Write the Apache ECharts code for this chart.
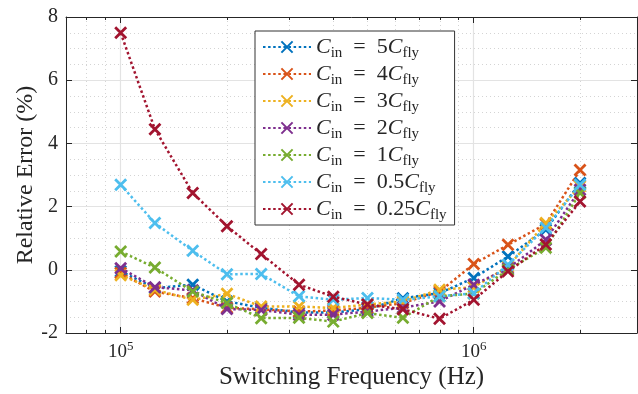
<!DOCTYPE html>
<html>
<head>
<meta charset="utf-8">
<script src="https://cdn.jsdelivr.net/npm/echarts@6/dist/echarts.min.js"></script>
<style>
	html, body { margin: 0; padding: 0; background: #fff; }
	#chart { width: 638px; height: 394px; }
</style>
</head>
<body>
<div id="chart"></div>
<script>
// switching frequencies (Hz)
const freqs = [1e5, 1.25e5, 1.6e5, 2e5, 2.5e5, 3.2e5, 4e5, 5e5, 6.3e5, 8e5, 1e6, 1.25e6, 1.6e6, 2e6];
// minor log grid positions
const minorFreqs = [8e4, 9e4, 2e5, 3e5, 4e5, 5e5, 6e5, 7e5, 8e5, 9e5, 2e6];

// C_in / C_fly ratio for each curve
const ratios = ["5", "4", "3", "2", "1", "0.5", "0.25"];
const colors = ["#0072BD", "#D95319", "#EDB120", "#7E2F8E", "#77AC30", "#4DBEEE", "#A2142F"];

// relative error (%)
const err5 = [-0.05, -0.58, -0.47, -1.0, -1.2, -1.35, -1.35, -1.25, -0.9, -0.74, -0.26, 0.42, 1.27, 2.75];
const err4 = [-0.1, -0.69, -0.9, -1.2, -1.25, -1.32, -1.29, -1.2, -1.05, -0.69, 0.18, 0.79, 1.45, 3.16];
const err3 = [-0.17, -0.63, -0.95, -0.76, -1.16, -1.16, -1.21, -1.1, -1.0, -0.63, -0.55, 0.1, 1.48, 2.64];
const err2 = [0.05, -0.55, -0.65, -1.24, -1.27, -1.42, -1.42, -1.32, -1.2, -1.0, -0.47, 0.04, 0.95, 2.53];
const err1 = [0.58, 0.07, -0.69, -1.05, -1.53, -1.52, -1.64, -1.37, -1.52, -0.84, -0.75, 0.0, 0.7, 2.43];
const err05 = [2.69, 1.48, 0.6, -0.14, -0.13, -0.84, -0.95, -0.89, -0.95, -0.84, -0.74, 0.16, 1.33, 2.69];
const err025 = [7.5, 4.45, 2.43, 1.38, 0.5, -0.47, -0.85, -1.1, -1.25, -1.55, -0.95, -0.05, 0.8, 2.16];
const errs = [err5, err4, err3, err2, err1, err05, err025];

const yTicks = { min: -2, max: 8, step: 2 };
const font = "'Liberation Serif', serif";
const ink = "#262626";
const xSymbol = "path://M0,0L10,10M0,10L10,0";

const chart = echarts.init(document.getElementById("chart"), null, { renderer: "canvas" });

const isDecade = (v) => {
	const e = Math.log10(v);
	return Math.abs(e - Math.round(e)) < 1e-6;
};

const baseX = {
	type: "log",
	logBase: 10,
	min: 7e4,
	max: 2.9e6,
	axisLine: { show: true, onZero: false, lineStyle: { color: ink, width: 1 } },
	axisTick: { show: true, inside: true, length: 6, lineStyle: { color: ink } },
	minorTick: { show: false },
	splitLine: { show: false }
};
const baseY = {
	type: "value",
	min: yTicks.min,
	max: yTicks.max,
	interval: yTicks.step,
	axisLine: { show: true, onZero: false, lineStyle: { color: ink, width: 1 } },
	axisTick: { show: true, inside: true, length: 6, lineStyle: { color: ink } },
	splitLine: { show: false }
};

const lineSeries = ratios.map((r, i) => ({
	name: r,
	type: "line",
	xAxisIndex: 0,
	yAxisIndex: 0,
	data: freqs.map((f, k) => [f, errs[i][k]]),
	symbol: xSymbol,
	symbolSize: 11,
	showSymbol: true,
	color: colors[i],
	lineStyle: { color: colors[i], width: 2.5, type: [2.5, 2.6] },
	itemStyle: { color: colors[i], borderColor: colors[i], borderWidth: 2.8 },
	emphasis: { disabled: true },
	z: 5 + i
}));

// dotted minor gridlines plus small minor ticks for the log axis
const minorSeries = {
	type: "custom",
	xAxisIndex: 0,
	yAxisIndex: 0,
	silent: true,
	z: 1,
	data: minorFreqs.map((f) => [f, yTicks.min]),
	renderItem: (params, api) => {
		const bottom = api.coord([api.value(0), yTicks.min]);
		const top = api.coord([api.value(0), yTicks.max]);
		const x = Math.round(bottom[0]) + 0.5;
		return {
			type: "group",
			children: [
				{ type: "line", shape: { x1: x, y1: top[1], x2: x, y2: bottom[1] },
					style: { stroke: "#d4d4d4", lineWidth: 1, lineDash: [1, 3] } },
				{ type: "line", shape: { x1: x, y1: bottom[1], x2: x, y2: bottom[1] - 3 },
					style: { stroke: ink, lineWidth: 1 } },
				{ type: "line", shape: { x1: x, y1: top[1], x2: x, y2: top[1] + 3 },
					style: { stroke: ink, lineWidth: 1 } }
			]
		};
	}
};

const option = {
	animation: false,
	backgroundColor: "#fff",
	textStyle: { fontFamily: font, color: ink },
	grid: { left: 66, right: 1, top: 17, bottom: 61, containLabel: false, outerBoundsMode: "none" },
	legend: {
		orient: "vertical",
		left: 255,
		top: 31,
		padding: [2, 8, 2, 7],
		itemWidth: 48,
		itemHeight: 14,
		itemGap: -1,
		backgroundColor: "#fff",
		borderColor: "#333",
		borderWidth: 1,
		borderRadius: 0,
		data: ratios,
		formatter: (name) => "{i|C}{s|in}{t|\u2002=\u2002" + name + "}{i|C}{s|fly}",
		textStyle: {
			color: ink,
			fontFamily: font,
			lineHeight: 22,
			rich: {
				i: { fontSize: 22, fontStyle: "italic", fontFamily: font, color: ink, lineHeight: 22 },
				t: { fontSize: 22, fontFamily: font, color: ink, lineHeight: 22 },
				s: { fontSize: 15, fontFamily: font, color: ink, lineHeight: 22, padding: [13, 0, 0, 0] }
			}
		}
	},
	xAxis: [
		Object.assign({}, baseX, {
			position: "bottom",
			name: "Switching Frequency (Hz)",
			nameLocation: "middle",
			nameGap: 32,
			nameMoveOverlap: false,
			nameTextStyle: { fontSize: 25, fontFamily: font, color: ink },
			splitLine: { show: true, lineStyle: { color: "#e3e3e3", width: 1.2 } },
			axisLabel: {
				margin: 7,
				showMinLabel: true,
				showMaxLabel: true,
				formatter: (v) => isDecade(v) ? "{b|10}{p|" + Math.round(Math.log10(v)) + "}" : "",
				rich: {
					b: { fontSize: 19, fontFamily: font, color: ink },
					p: { fontSize: 13, fontFamily: font, color: ink, padding: [0, 0, 12, 0] }
				}
			}
		}),
		Object.assign({}, baseX, { position: "top", axisLabel: { show: false } })
	],
	yAxis: [
		Object.assign({}, baseY, {
			position: "left",
			name: "Relative Error (%)",
			nameLocation: "middle",
			nameGap: 28,
			nameMoveOverlap: false,
			nameTextStyle: { fontSize: 24, fontFamily: font, color: ink },
			splitLine: { show: true, lineStyle: { color: "#e3e3e3", width: 1.2 } },
			minorTick: { show: false, splitNumber: 4 },
			minorSplitLine: { show: true, lineStyle: { color: "#d4d4d4", width: 1, type: [1, 3] } },
			axisLabel: { fontSize: 20, fontFamily: font, color: ink, margin: 8 }
		}),
		Object.assign({}, baseY, { position: "right", axisLabel: { show: false } })
	],
	series: [minorSeries].concat(lineSeries)
};

chart.setOption(option);
</script>
</body>
</html>
